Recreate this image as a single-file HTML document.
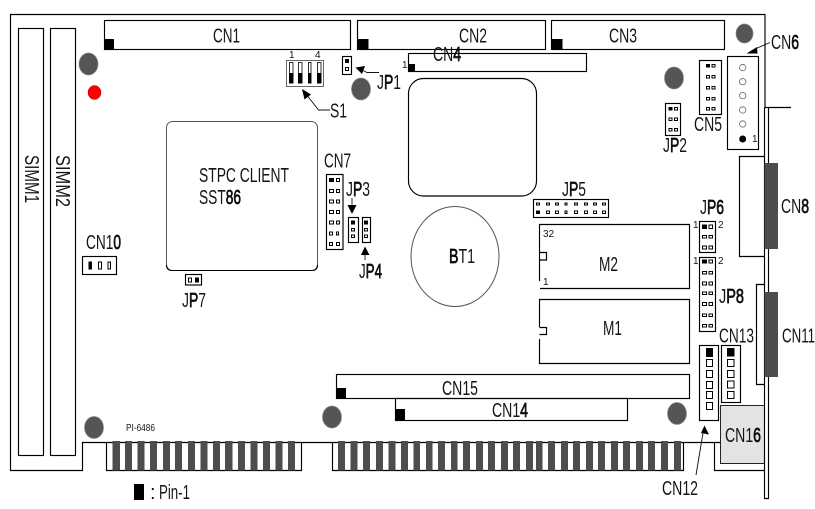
<!DOCTYPE html>
<html><head><meta charset="utf-8"><style>
html,body{margin:0;padding:0;background:#fff;width:815px;height:509px;overflow:hidden}
svg{display:block}
text{font-family:"Liberation Sans",sans-serif;font-size:20px;fill:#151515}
tspan.d{stroke:#000;stroke-width:.7}
.s{font-size:10px}
.l{fill:none;stroke:#000;stroke-width:1.15}
.f rect{fill:#4d4d4d;stroke:none}
.h ellipse{fill:#555;stroke:#888;stroke-width:.7}
.o rect{fill:#fff;stroke:#000;stroke-width:1}
.o rect.k{fill:#000}
</style></head><body>
<svg width="815" height="509" viewBox="0 0 815 509" xmlns="http://www.w3.org/2000/svg">
<path class="l" d="M765 107.5V14.500H10.500V470.500H82.500V442.500H720M106.500 442.500V470.500H301.500V442.500M332.500 442.500V470.500H683.500V442.500M714.500 442.500V470.500H765"/>
<rect x="720.500" y="405.500" width="44" height="58" fill="#e3e3e3" stroke="#222"/>
<path class="l" d="M764.500 107.500H791M764.500 107.500V498.500H768.500V107.500"/>
<g class="l"><rect x="18.500" y="28.500" width="25" height="427"/><rect x="50.500" y="28.500" width="25" height="427"/></g>
<g class="l">
<rect x="104.500" y="20.500" width="246" height="29"/>
<rect x="357.500" y="20.500" width="188" height="29"/>
<rect x="551.500" y="20.500" width="173" height="29"/>
<rect x="408.500" y="53.500" width="178" height="18"/>
<rect x="408.500" y="78.500" width="128" height="117.500" rx="15"/>
<rect x="336.500" y="374.500" width="353" height="24"/>
<rect x="395.500" y="398.500" width="232" height="22"/>
<path d="M539.500 281V224.500H689.500V288.500H540M539.500 252.500H546.500V260H539.500"/>
<path d="M539.500 327V299.500H689.500V363.500H539.500V339M539.500 327.500H546.500V334.500H539.500"/>
<path d="M764 156.500H739.500V256.500H765M764 284.500H756.500V384.500H765"/>
<rect x="727.500" y="56.500" width="31" height="93"/>
<rect x="699.500" y="60.500" width="22" height="54"/>
<rect x="665.500" y="103.500" width="15" height="32"/>
<rect x="342.500" y="56.500" width="9" height="18"/>
<rect x="326.500" y="174.500" width="16.500" height="75"/>
<rect x="348.500" y="217.500" width="10" height="25"/>
<rect x="362.500" y="217.500" width="8" height="25"/>
<rect x="82.500" y="256.500" width="34" height="18"/>
<rect x="185.500" y="274.500" width="16" height="10.500"/>
<rect x="533.500" y="199.500" width="75" height="18"/>
<rect x="699.500" y="221.500" width="16" height="31"/>
<rect x="699.500" y="257.500" width="16" height="74"/>
<rect x="699.500" y="345.500" width="19" height="75"/>
<rect x="721.500" y="345.500" width="19" height="57"/>
</g>
<rect x="166.500" y="121.500" width="151" height="149" rx="6" fill="none" stroke="#555" stroke-width="1"/>
<path d="M166.500 265Q166.500 270.500 172 270.500H312Q317.500 270.500 317.500 265" fill="none" stroke="#000"/>
<ellipse cx="455" cy="256.500" rx="44" ry="50" fill="none" stroke="#555"/>
<rect x="286.500" y="60.500" width="37" height="26" fill="none" stroke="#666"/>
<g fill="#fff" stroke="#000" stroke-width=".8">
<rect x="289.500" y="62.500" width="3.500" height="20.500"/><rect x="298.500" y="62.500" width="3.500" height="20.500"/><rect x="308.500" y="62.500" width="2.500" height="20.500"/><rect x="317.500" y="62.500" width="3.500" height="20.500"/>
</g>
<g fill="#000">
<rect x="289" y="73" width="4.500" height="10.500"/><rect x="298" y="73" width="4.500" height="10.500"/><rect x="308" y="73" width="3.500" height="10.500"/><rect x="317" y="73" width="4.500" height="10.500"/>
<rect x="104.500" y="39" width="9.500" height="11"/><rect x="357.500" y="39" width="11" height="11"/><rect x="551.500" y="39" width="11" height="11"/>
<rect x="408" y="64" width="7" height="8"/><rect x="336.500" y="388" width="9.500" height="11"/><rect x="395.500" y="409" width="9.500" height="12"/>
<rect x="134" y="484" width="10" height="16"/>
</g>
<g class="f">
<rect x="112.500" y="441" width="7.500" height="29.500"/><rect x="125" y="441" width="7" height="29.500"/><rect x="137.500" y="441" width="7" height="29.500"/><rect x="150" y="441" width="7" height="29.500"/><rect x="163" y="441" width="7" height="29.500"/><rect x="175" y="441" width="7" height="29.500"/><rect x="188" y="441" width="7" height="29.500"/><rect x="200.500" y="441" width="7" height="29.500"/><rect x="213" y="441" width="7" height="29.500"/><rect x="225" y="441" width="7.500" height="29.500"/><rect x="238" y="441" width="7" height="29.500"/><rect x="250.500" y="441" width="7" height="29.500"/><rect x="263" y="441" width="7" height="29.500"/><rect x="275.500" y="441" width="7" height="29.500"/><rect x="288" y="441" width="7" height="29.500"/>
<rect x="338" y="441" width="7" height="29.500"/><rect x="350.500" y="441" width="7" height="29.500"/><rect x="363" y="441" width="7" height="29.500"/><rect x="376" y="441" width="7" height="29.500"/><rect x="388.500" y="441" width="7" height="29.500"/><rect x="401" y="441" width="7" height="29.500"/><rect x="413.500" y="441" width="6.500" height="29.500"/><rect x="426" y="441" width="6.500" height="29.500"/><rect x="438" y="441" width="7" height="29.500"/><rect x="451" y="441" width="6.500" height="29.500"/><rect x="463" y="441" width="7" height="29.500"/><rect x="476" y="441" width="7" height="29.500"/><rect x="488" y="441" width="7" height="29.500"/><rect x="501" y="441" width="7" height="29.500"/><rect x="513" y="441" width="7" height="29.500"/><rect x="526" y="441" width="7" height="29.500"/><rect x="536" y="441" width="6.500" height="29.500"/><rect x="548" y="441" width="7" height="29.500"/><rect x="561" y="441" width="7" height="29.500"/><rect x="573" y="441" width="7" height="29.500"/><rect x="586" y="441" width="7" height="29.500"/><rect x="598" y="441" width="7" height="29.500"/><rect x="611" y="441" width="7" height="29.500"/><rect x="623" y="441" width="7" height="29.500"/><rect x="636" y="441" width="7" height="29.500"/><rect x="648" y="441" width="7" height="29.500"/><rect x="661" y="441" width="7" height="29.500"/><rect x="674" y="441" width="7" height="29.500"/>
<rect x="764.500" y="163" width="13.500" height="86" fill="#333"/><rect x="764.500" y="292" width="13.500" height="85"/>
</g>
<g class="h">
<ellipse cx="88.500" cy="64" rx="9.500" ry="11"/><ellipse cx="361" cy="89" rx="9.500" ry="11"/><ellipse cx="744.500" cy="33.500" rx="8.500" ry="9.500"/><ellipse cx="674" cy="78" rx="9.500" ry="11"/><ellipse cx="94" cy="427.500" rx="9.500" ry="11"/><ellipse cx="332" cy="417" rx="9.500" ry="11"/><ellipse cx="677" cy="413.500" rx="9.500" ry="11"/>
</g>
<ellipse cx="94.500" cy="92.500" rx="6.500" ry="7" fill="#f00" stroke="#a00" stroke-width=".5"/>
<g class="o">
<rect x="345.500" y="59.500" width="3" height="3" class="k"/><rect x="345.500" y="67.500" width="3" height="3"/>
<rect x="706.500" y="64.500" width="3" height="2.500" class="k"/><rect x="712" y="64.500" width="3" height="2.500"/><rect x="706.500" y="75.500" width="3" height="2.500"/><rect x="712" y="75.500" width="3" height="2.500"/><rect x="706.500" y="86.500" width="3" height="2.500"/><rect x="712" y="86.500" width="3" height="2.500"/><rect x="706.500" y="97.500" width="3" height="2.500"/><rect x="712" y="97.500" width="3" height="2.500"/><rect x="706.500" y="107.500" width="3" height="2.500"/><rect x="712" y="107.500" width="3" height="2.500"/>
<rect x="669" y="107.500" width="3" height="2.500" class="k"/><rect x="674.500" y="107.500" width="3" height="2.500"/><rect x="669" y="118" width="3" height="2.500"/><rect x="674.500" y="118" width="3" height="2.500"/><rect x="669" y="128.500" width="3" height="2.500"/><rect x="674.500" y="128.500" width="3" height="2.500"/>
<rect x="329.500" y="178.500" width="4" height="3" class="k"/><rect x="336.500" y="178.500" width="3" height="3"/><rect x="329.500" y="189.500" width="4" height="3"/><rect x="336.500" y="189.500" width="3" height="3"/><rect x="329.500" y="200" width="4" height="3"/><rect x="336.500" y="200" width="3" height="3"/><rect x="329.500" y="210.500" width="4" height="3"/><rect x="336.500" y="210.500" width="3" height="3"/><rect x="329.500" y="221" width="4" height="3"/><rect x="336.500" y="221" width="3" height="3"/><rect x="329.500" y="232" width="3" height="3"/><rect x="336.500" y="232" width="2" height="3"/><rect x="329.500" y="242.500" width="3" height="3"/><rect x="336.500" y="242.500" width="3" height="3"/>
<rect x="351.500" y="221" width="3" height="3" class="k"/><rect x="351.500" y="228.500" width="3" height="2.500"/><rect x="351.500" y="235" width="3" height="2.500"/>
<rect x="364.500" y="221" width="3" height="3" class="k"/><rect x="364.500" y="228.500" width="3" height="2.500"/><rect x="364.500" y="235" width="3" height="2.500"/>
<rect x="89" y="262" width="2.500" height="7" class="k"/><rect x="98.500" y="262" width="3" height="7"/><rect x="108" y="262" width="2.500" height="7"/>
<rect x="188.500" y="278" width="3" height="4"/><rect x="195.500" y="278" width="3" height="4" class="k"/>
<rect x="536.500" y="203" width="3" height="2"/><rect x="546.500" y="203" width="3" height="2"/><rect x="555.500" y="203" width="3" height="2"/><rect x="565" y="203" width="2" height="2"/><rect x="574.500" y="203" width="3" height="2"/><rect x="584.500" y="203" width="3" height="2"/><rect x="593.500" y="203" width="3" height="2"/><rect x="602.500" y="203" width="3" height="2"/>
<rect x="536.500" y="211" width="3" height="2.500" class="k"/><rect x="546.500" y="211" width="3" height="2.500"/><rect x="555.500" y="211" width="3" height="2.500"/><rect x="565" y="211" width="2" height="2.500"/><rect x="574.500" y="211" width="3" height="2.500"/><rect x="584.500" y="211" width="3" height="2.500"/><rect x="593.500" y="211" width="3" height="2.500"/><rect x="602.500" y="211" width="3" height="2.500"/>
<rect x="702.500" y="225" width="4" height="3.500" class="k"/><rect x="709" y="225" width="3.500" height="3.500"/><rect x="702.500" y="235.500" width="4" height="2.500"/><rect x="709" y="235.500" width="3.500" height="2.500"/><rect x="702.500" y="246" width="4" height="3"/><rect x="709" y="246" width="3.500" height="3"/>
<rect x="702.500" y="260" width="4" height="3" class="k"/><rect x="709" y="260" width="3.500" height="3"/><rect x="702.500" y="271.500" width="4" height="2.500"/><rect x="709" y="271.500" width="3.500" height="2.500"/><rect x="702.500" y="282" width="4" height="3"/><rect x="709" y="282" width="3.500" height="3"/><rect x="702.500" y="292" width="4" height="2.500"/><rect x="709" y="292" width="3.500" height="2.500"/><rect x="702.500" y="302.500" width="4" height="3"/><rect x="709" y="302.500" width="3.500" height="3"/><rect x="702.500" y="314" width="4" height="2.500"/><rect x="709" y="314" width="3.500" height="2.500"/><rect x="702.500" y="324.500" width="4" height="2.500"/><rect x="709" y="324.500" width="3.500" height="2.500"/>
<rect x="706.500" y="348.500" width="6" height="8" class="k"/><rect x="706.500" y="359.500" width="6" height="7"/><rect x="706.500" y="370.500" width="6" height="7"/><rect x="706.500" y="381.500" width="6" height="7"/><rect x="706.500" y="391.500" width="6" height="7"/><rect x="706.500" y="402.500" width="6" height="7"/>
<rect x="727.500" y="348.500" width="6.500" height="7.500" class="k"/><rect x="727.500" y="359.500" width="6.500" height="7"/><rect x="727.500" y="370.500" width="6.500" height="7"/><rect x="727.500" y="381" width="6.500" height="7"/><rect x="727.500" y="391.500" width="6.500" height="7"/>
</g>
<g fill="#fff" stroke="#666" stroke-width=".8">
<circle cx="742.700" cy="67.500" r="3.200"/><circle cx="742.700" cy="81.700" r="3.200"/><circle cx="742.700" cy="95.700" r="3.200"/><circle cx="742.700" cy="110" r="3.200"/><circle cx="742.700" cy="124" r="3.200"/>
</g>
<circle cx="742.700" cy="139" r="3.500" fill="#000"/>
<g fill="none" stroke="#111" stroke-width=".9">
<path d="M360 69L367 72.500H379"/><path d="M306 94L318.500 110H330"/><path d="M352 198V207"/><path d="M365 254V260"/><path d="M703 433L696 475"/><path d="M755 49L770 42.500"/>
</g>
<g fill="#000">
<path d="M355.500 67.500L365 66L362 74Z"/><path d="M302 89L311 94.500L304.500 99.500Z"/><path d="M347.500 205H356.500L352 214Z"/><path d="M361 255H369.500L365 246.500Z"/><path d="M704.500 425.500L709 434.500L701 433Z"/><path d="M746.500 53.500L757 47L757.500 53.500Z"/>
</g>
<text x="213" y="42.500" textLength="27" lengthAdjust="spacingAndGlyphs">CN1</text>
<text x="459" y="42.500" textLength="28" lengthAdjust="spacingAndGlyphs">CN2</text>
<text x="609" y="42.500" textLength="28" lengthAdjust="spacingAndGlyphs">CN3</text>
<text x="433" y="61" textLength="28" lengthAdjust="spacingAndGlyphs">CN<tspan class="d">4</tspan></text>
<text x="771" y="49" textLength="28" lengthAdjust="spacingAndGlyphs">CN<tspan class="d">6</tspan></text>
<text x="694" y="131" textLength="28" lengthAdjust="spacingAndGlyphs">CN5</text>
<text x="663" y="152" textLength="24" lengthAdjust="spacingAndGlyphs">J<tspan class="d">P</tspan>2</text>
<text x="377" y="89" textLength="24" lengthAdjust="spacingAndGlyphs">J<tspan class="d">P</tspan>1</text>
<text x="330" y="117.500" textLength="17" lengthAdjust="spacingAndGlyphs">S1</text>
<text x="324" y="167.500" textLength="27" lengthAdjust="spacingAndGlyphs">CN7</text>
<text x="199" y="182" textLength="90" lengthAdjust="spacingAndGlyphs">STPC CLIENT</text>
<text x="199" y="204" textLength="42" lengthAdjust="spacingAndGlyphs">SST<tspan class="d">86</tspan></text>
<text x="346" y="196" textLength="24" lengthAdjust="spacingAndGlyphs">J<tspan class="d">P</tspan>3</text>
<text x="359" y="278" textLength="23" lengthAdjust="spacingAndGlyphs">J<tspan class="d">P4</tspan></text>
<text x="86" y="249" textLength="35" lengthAdjust="spacingAndGlyphs">CN1<tspan class="d">0</tspan></text>
<text x="182" y="307" textLength="24" lengthAdjust="spacingAndGlyphs">J<tspan class="d">P</tspan>7</text>
<text transform="translate(25 155) rotate(90)" textLength="48" lengthAdjust="spacingAndGlyphs">SIMM1</text>
<text transform="translate(56 155) rotate(90)" textLength="52" lengthAdjust="spacingAndGlyphs">SIMM2</text>
<text x="449" y="263" textLength="26" lengthAdjust="spacingAndGlyphs"><tspan class="d">B</tspan>T1</text>
<text x="562" y="196" textLength="24" lengthAdjust="spacingAndGlyphs">J<tspan class="d">P</tspan>5</text>
<text x="700" y="214" textLength="24" lengthAdjust="spacingAndGlyphs">J<tspan class="d">P6</tspan></text>
<text x="719" y="303" textLength="25" lengthAdjust="spacingAndGlyphs">J<tspan class="d">P8</tspan></text>
<text x="781" y="213" textLength="28" lengthAdjust="spacingAndGlyphs">CN<tspan class="d">8</tspan></text>
<text x="599" y="271" textLength="19" lengthAdjust="spacingAndGlyphs">M2</text>
<text x="603" y="335" textLength="19" lengthAdjust="spacingAndGlyphs">M1</text>
<text x="719" y="342.500" textLength="35" lengthAdjust="spacingAndGlyphs">CN13</text>
<text x="782" y="342.500" textLength="33" lengthAdjust="spacingAndGlyphs">CN11</text>
<text x="442" y="395" textLength="36" lengthAdjust="spacingAndGlyphs">CN15</text>
<text x="492" y="417" textLength="36" lengthAdjust="spacingAndGlyphs">CN1<tspan class="d">4</tspan></text>
<text x="725" y="442" textLength="36" lengthAdjust="spacingAndGlyphs">CN1<tspan class="d">6</tspan></text>
<text x="662" y="495" textLength="36" lengthAdjust="spacingAndGlyphs">CN12</text>
<text x="159" y="499" textLength="31" lengthAdjust="spacingAndGlyphs">Pin-1</text>
<text x="150" y="499">:</text>
<text class="s" x="126" y="431" textLength="29" lengthAdjust="spacingAndGlyphs">PI-6486</text>
<text class="s" x="289" y="58">1</text>
<text class="s" x="315" y="58">4</text>
<text class="s" x="402" y="68">1</text>
<text class="s" x="543" y="237">32</text>
<text class="s" x="543" y="285">1</text>
<text class="s" x="693" y="228">1</text>
<text class="s" x="718" y="228">2</text>
<text class="s" x="693" y="264">1</text>
<text class="s" x="718" y="264">2</text>
<text class="s" x="752" y="142">1</text>
</svg>
</body></html>
